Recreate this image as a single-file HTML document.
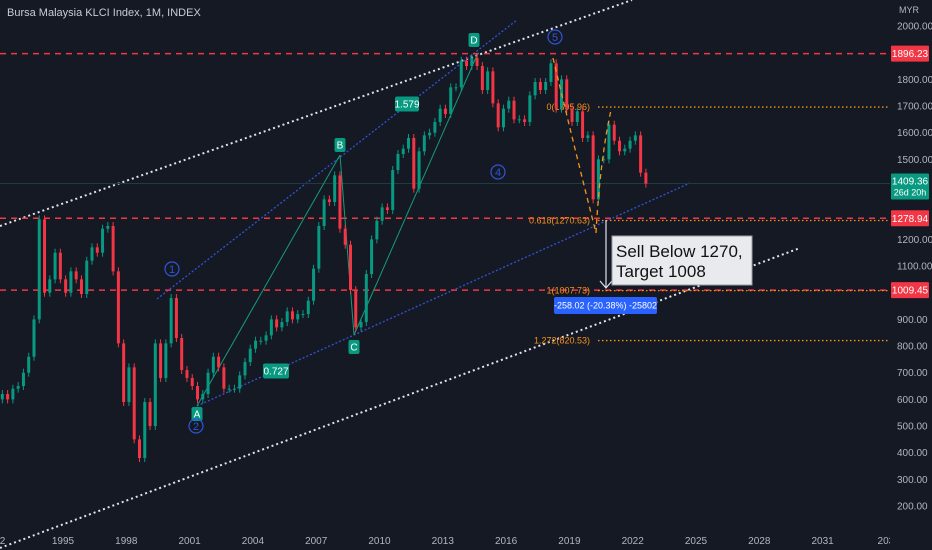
<!DOCTYPE html>
<html><head><meta charset="utf-8">
<style>
html,body{margin:0;padding:0;background:#151924;}
svg{display:block;font-family:"Liberation Sans",sans-serif;}
</style></head>
<body>
<svg id="chart" width="932" height="550" viewBox="0 0 932 550">
<rect width="932" height="550" fill="#151924"/>
<text x="7" y="16" fill="#c9ccd6" font-size="11">Bursa Malaysia KLCI Index, 1M, INDEX</text>
<g id="grid"></g>
<g id="lines"></g>
<g id="candles"></g>
<g id="annot"></g>
<g id="axes"></g>
</svg>
<script>
const years = [1992,1995,1998,2001,2004,2007,2010,2013,2016,2019,2022,2025,2028,2031,2034];
const yearLabels = ["92","1995","1998","2001","2004","2007","2010","2013","2016","2019","2022","2025","2028","2031","203"];
const priceTicks = [2000,1800,1700,1600,1500,1200,1100,900,800,700,600,500,400,300,200];
const startYear = 1992;
const quarterCloses = [
620,600,640,650, 700,760,900,1275, 1000,1050,1150,1050, 1000,1080,1050,995,
1120,1170,1150,1240, 1250,1080,810,590, 720,450,380,590, 500,810,680,810,
980,830,710,680, 650,600,620,700, 760,720,640,640, 640,690,740,790,
820,820,840,900, 870,890,930,900, 920,920,970,1090, 1250,1350,1340,1440,
1240,1180,1010,870, 890,1070,1200,1270, 1320,1310,1460,1520, 1540,1580,1390,1530,
1590,1600,1640,1690, 1670,1770,1770,1870, 1850,1880,1850,1760, 1830,1710,1620,1690,
1720,1650,1650,1640, 1740,1790,1760,1790, 1860,1690,1800,1690, 1640,1680,1580,1590,
1350,1500,1500,1630, 1570,1530,1540,1570, 1590,1450,1409
];
const hLevels = [1896.23,1278.94,1009.45];
const hLabels = ["1896.23","1278.94","1009.45"];
const fibLevels = [1695.96,1270.63,1007.73,820.53];
const fibLabels = ["0(1695.96)","0.618(1270.63)","1(1007.73)","1.272(820.53)"];
const lastPrice = 1409.36;

const NS="http://www.w3.org/2000/svg";
const X = t => 63 + (t-1995)*21.1;
const Y = v => 26 + (2000-v)*0.2667;
function mk(parent,tag,attrs){const e=document.createElementNS(NS,tag);for(const k in attrs)e.setAttribute(k,attrs[k]);document.getElementById(parent).appendChild(e);return e;}
function txt(parent,x,y,s,attrs){const e=mk(parent,'text',Object.assign({x:x,y:y},attrs));e.textContent=s;return e;}

years.forEach((yr,i)=>{
  const t=txt('axes',X(yr),544,yearLabels[i],{fill:'#b2b5be','font-size':10,'text-anchor':'middle'});
  
  
});
const cover=mk('axes','rect',{x:890,y:0,width:42,height:550,fill:'#151924'});


const myr=txt('axes',899,13,'MYR',{fill:'#b2b5be','font-size':9});


priceTicks.forEach(p=>{
  const t=txt('axes',897,Y(p)+3.5,p.toFixed(2),{fill:'#b2b5be','font-size':10});
  
  
});

function line(g,x1,y1,x2,y2,st,name){const l=mk(g,'line',Object.assign({x1,y1,x2,y2},st));return l;}
const wdot={stroke:'#e0e3eb','stroke-width':2,'stroke-dasharray':'2 3'};
const bdot={stroke:'#2f55d4','stroke-width':1.3,'stroke-dasharray':'2 2'};
line('lines',0,226,632,0,wdot,'upper-channel-line');
line('lines',0,548,800,248,wdot,'lower-channel-line');
line('lines',157,299,517,20,bdot,'upper-blue-trendline');
line('lines',197,406,690,183,bdot,'lower-blue-trendline');
line('lines',0,Y(lastPrice),890,Y(lastPrice),{stroke:'#1b3f3f','stroke-width':1},'last-price-line');
hLevels.forEach((v,i)=>{
  line('lines',0,Y(v),890,Y(v),{stroke:'#f23645','stroke-width':1.5,'stroke-dasharray':'6 5'},'resistance-line-'+i);
});
fibLevels.forEach((v,i)=>{
  line('lines',598,Y(v),890,Y(v),{stroke:'#f7931a','stroke-width':1.3,'stroke-dasharray':'1.5 2.5'},'fib-line-'+i);
  const t=txt('lines',590,Y(v)+3,fibLabels[i],{fill:'#f7931a','font-size':9,'text-anchor':'end'});
  
  
});
const gst={stroke:'#169b78','stroke-width':1};
line('lines',197,406,340,155,gst,'xabcd-ab');
line('lines',340,155,354,335,gst,'xabcd-bc');
line('lines',354,335,478,53,gst,'xabcd-cd');

let prev=quarterCloses[0]-20;
quarterCloses.forEach((c,i)=>{
  const t=startYear+i*0.25+0.125;
  const o=prev; prev=c;
  const up=c>=o, col=up?'#089981':'#f23645';
  const x=X(t);
  const top=Y(Math.max(o,c)), bot=Y(Math.min(o,c));
  const w=mk('candles','line',{x1:x,x2:x,y1:top-4,y2:bot+4,stroke:col,'stroke-width':1});
  
  
  const b=mk('candles','rect',{x:x-1.5,y:top,width:3,height:Math.max(1,bot-top),fill:col});
  
  
});

function badge(x,y,w,h,s,bg,name,fs){
  const r=mk('annot','rect',{x:x-w/2,y:y-h/2,width:w,height:h,rx:2,fill:bg});
  
  
  const t=txt('annot',x,y+fs*0.36,s,{fill:'#fff','font-size':fs,'text-anchor':'middle'});
  
  
}
badge(197,414,11,14,'A','#089981','point-a',10);
badge(340,145,11,14,'B','#089981','point-b',10);
badge(354,347,11,14,'C','#089981','point-c',10);
badge(474,40,11,14,'D','#089981','point-d',10);
badge(407,104,24,15,'1.579','#089981','ratio-1579',10);
badge(276,371,26,15,'0.727','#089981','ratio-0727',10);
[['1',172,269],['2',196,426],['4',498,172],['5',555,37]].forEach(w=>{
  const c=mk('annot','circle',{cx:w[1],cy:w[2],r:7,fill:'none',stroke:'#2f55d4','stroke-width':1.2});
  
  
  const t=txt('annot',w[1],w[2]+4,w[0],{fill:'#2f55d4','font-size':11,'text-anchor':'middle'});
  
  
});
const ap=mk('annot','path',{d:'M553 58 Q575 150 596 233 M596 233 Q600 160 611 110',fill:'none',stroke:'#f7931a','stroke-width':1.3,'stroke-dasharray':'5 4'});


const arr=mk('annot','path',{d:'M606 220 V288 M600 281 L606 288 L612 281',fill:'none',stroke:'#e0e3eb','stroke-width':1.2});


const box=mk('annot','rect',{x:612,y:236,width:140,height:49,fill:'#e9eaee',stroke:'#9a9ca3'});


const t1=txt('annot',616,257,'Sell Below 1270,',{fill:'#111','font-size':17});


const t2=txt('annot',616,277,'Target 1008',{fill:'#111','font-size':17});


badge(605.5,305.5,103,17,'-258.02 (-20.38%) -25802','#2962ff','measure-badge',9);

hLevels.forEach((v,i)=>{
  const r=mk('axes','rect',{x:891,y:Y(v)-8,width:38,height:16,rx:1,fill:'#f23645'});
  
  
  const t=txt('axes',910,Y(v)+3.5,hLabels[i],{fill:'#fff','font-size':10,'text-anchor':'middle'});
  
  
});
const lr=mk('axes','rect',{x:891,y:Y(lastPrice)-10,width:38,height:26,rx:1,fill:'#089981'});


const lt=txt('axes',910,Y(lastPrice)+1,lastPrice.toFixed(2),{fill:'#fff','font-size':10,'text-anchor':'middle'});


const lc=txt('axes',910,Y(lastPrice)+12,'26d 20h',{fill:'#fff','font-size':9,'text-anchor':'middle'});


</script>
</body></html>
